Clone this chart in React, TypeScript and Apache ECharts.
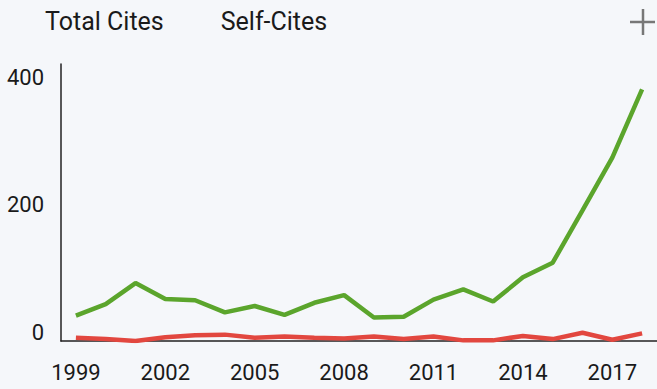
import React, { useEffect, useRef } from "react";
import * as echarts from "echarts";

const years = [
  "1999", "2000", "2001", "2002", "2003", "2004", "2005", "2006", "2007", "2008",
  "2009", "2010", "2011", "2012", "2013", "2014", "2015", "2016", "2017", "2018",
];
const totalCites = [40, 58, 91, 66, 64, 45, 55, 41, 60, 72, 37, 38, 65, 81, 62, 100, 123, 205, 288, 395];
const selfCites = [5, 3, 0, 6, 9, 10, 5, 7, 5, 4, 7, 3, 7, 1, 1, 8, 3, 13, 2, 12];
const seriesNames = ["Total Cites", "Self-Cites"];

export default function App() {
  const ref = useRef<HTMLDivElement>(null);
  useEffect(() => {
    if (!ref.current) return;
    const chart = echarts.init(ref.current, null, { renderer: "svg" });
    const font = "Roboto";
    chart.setOption({
      animation: false,
      backgroundColor: "#f5f7fa",
      textStyle: { fontFamily: font },
      legend: {
        left: 35,
        top: 4,
        itemWidth: 0,
        itemHeight: 0,
        itemGap: 52,
        icon: "none",
        selectedMode: false,
        textStyle: { fontFamily: font, fontSize: 25, color: "#1a1a1a" },
        data: seriesNames.map((n) => ({ name: n, icon: "none" })),
      },
      grid: { left: 61, right: 0, top: 64, bottom: 48, containLabel: false },
      xAxis: {
        type: "category",
        data: years,
        boundaryGap: true,
        axisLine: { lineStyle: { color: "#222", width: 1.5 } },
        axisTick: { show: false },
        axisLabel: {
          interval: 2,
          margin: 20,
          fontSize: 22,
          color: "#1a1a1a",
          fontFamily: font,
        },
      },
      yAxis: {
        type: "value",
        min: 0,
        max: 435,
        interval: 200,
        axisLine: { show: true, lineStyle: { color: "#222", width: 1.5 } },
        axisTick: { show: false },
        splitLine: { show: false },
        axisLabel: {
          showMaxLabel: false,
          margin: 17,
          fontSize: 22,
          color: "#1a1a1a",
          fontFamily: font,
          verticalAlign: "bottom",
          lineHeight: 18,
        },
      },
      series: [
        {
          name: seriesNames[0],
          type: "line",
          data: totalCites,
          symbol: "none",
          lineStyle: { color: "#5ba52c", width: 4.5 },
          itemStyle: { color: "#5ba52c" },
          z: 2,
        },
        {
          name: seriesNames[1],
          type: "line",
          data: selfCites,
          symbol: "none",
          lineStyle: { color: "#e2473f", width: 4.5 },
          itemStyle: { color: "#e2473f" },
          z: 3,
        },
      ],
      graphic: [
        {
          type: "line",
          shape: { x1: 630, y1: 22, x2: 655, y2: 22 },
          style: { stroke: "#777", lineWidth: 2.5 },
        },
        {
          type: "line",
          shape: { x1: 643, y1: 9, x2: 643, y2: 35 },
          style: { stroke: "#777", lineWidth: 2.5 },
        },
      ],
    });
    return () => chart.dispose();
  }, []);
  return (
    <div
      ref={ref}
      style={{ position: "fixed", left: 0, top: 0, width: 657, height: 389 }}
    />
  );
}
